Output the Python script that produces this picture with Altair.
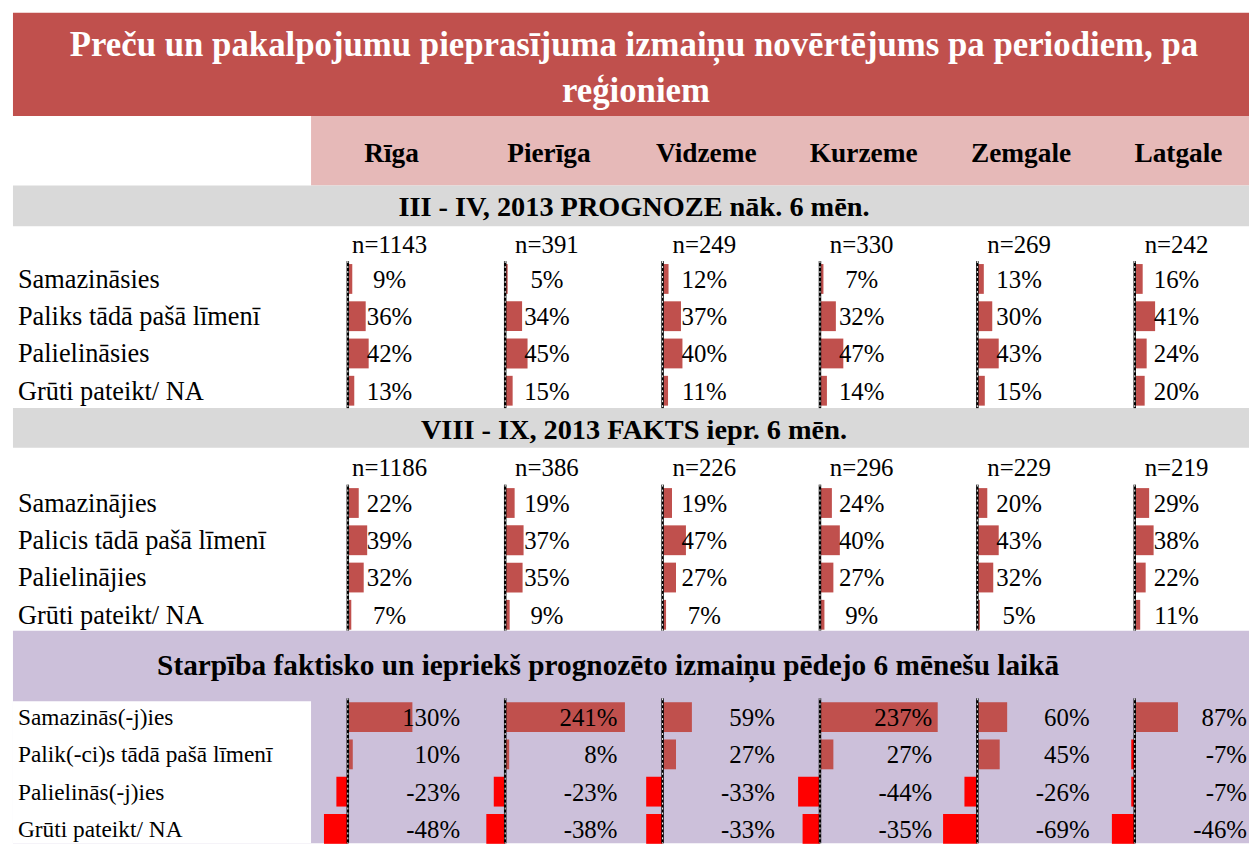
import altair as alt
import pandas as pd

# ---------------- data ----------------
title_lines = ["Preču un pakalpojumu pieprasījuma izmaiņu novērtējums pa periodiem, pa", "reģioniem"]
regions = ["Rīga", "Pierīga", "Vidzeme", "Kurzeme", "Zemgale", "Latgale"]

sec1_title = "III - IV, 2013 PROGNOZE nāk. 6 mēn."
sec1_n = [1143, 391, 249, 330, 269, 242]
sec1_cats = ["Samazināsies", "Paliks tādā pašā līmenī", "Palielināsies", "Grūti pateikt/ NA"]
sec1_riga = [9, 36, 42, 13]
sec1_pieriga = [5, 34, 45, 15]
sec1_vidzeme = [12, 37, 40, 11]
sec1_kurzeme = [7, 32, 47, 14]
sec1_zemgale = [13, 30, 43, 15]
sec1_latgale = [16, 41, 24, 20]

sec2_title = "VIII - IX, 2013 FAKTS iepr. 6 mēn."
sec2_n = [1186, 386, 226, 296, 229, 219]
sec2_cats = ["Samazinājies", "Palicis tādā pašā līmenī", "Palielinājies", "Grūti pateikt/ NA"]
sec2_riga = [22, 39, 32, 7]
sec2_pieriga = [19, 37, 35, 9]
sec2_vidzeme = [19, 47, 27, 7]
sec2_kurzeme = [24, 40, 27, 9]
sec2_zemgale = [20, 43, 32, 5]
sec2_latgale = [29, 38, 22, 11]

sec3_title = "Starpība faktisko un iepriekš prognozēto izmaiņu pēdejo 6 mēnešu laikā"
sec3_cats = ["Samazinās(-j)ies", "Palik(-ci)s tādā pašā līmenī", "Palielinās(-j)ies", "Grūti pateikt/ NA"]
sec3_riga = [130, 10, -23, -48]
sec3_pieriga = [241, 8, -23, -38]
sec3_vidzeme = [59, 27, -33, -33]
sec3_kurzeme = [237, 27, -44, -35]
sec3_zemgale = [60, 45, -26, -69]
sec3_latgale = [87, -7, -7, -46]

# ---------------- layout (pixel positions on the page) ----------------
FONT = "Liberation Serif"
RED = "#C0504D"
PINK = "#E6B9B8"
GRAY = "#D9D9D9"
LAV = "#CCC0DA"
NEG = "#FF0000"
PX_PER_PCT = 0.5
AXIS0, AXIS_STEP = 350.0, 158.4
ROW_STEP, BAR_H = 37.5, 30
LEFT, RIGHT = 13, 1257

XS = alt.Scale(domain=[8, 1257], nice=False, zero=False)
YS = alt.Scale(domain=[8, 846], reverse=True, nice=False, zero=False)


def X(f):
    return alt.X(f, type="quantitative", scale=XS, axis=None)


def Y(f):
    return alt.Y(f, type="quantitative", scale=YS, axis=None)


sections = [
    dict(cats=sec1_cats, vals=[sec1_riga, sec1_pieriga, sec1_vidzeme, sec1_kurzeme, sec1_zemgale, sec1_latgale],
         n=sec1_n, row0=278, ny=244, ax=(260, 408), lab=26.5, kind="share"),
    dict(cats=sec2_cats, vals=[sec2_riga, sec2_pieriga, sec2_vidzeme, sec2_kurzeme, sec2_zemgale, sec2_latgale],
         n=sec2_n, row0=503.5, ny=468, ax=(485, 632), lab=26.5, kind="share"),
    dict(cats=sec3_cats, vals=[sec3_riga, sec3_pieriga, sec3_vidzeme, sec3_kurzeme, sec3_zemgale, sec3_latgale],
         n=None, row0=719, ny=None, ax=(700, 846), lab=23.5, kind="diff"),
]

# backgrounds
bg = pd.DataFrame([
    dict(x=LEFT, x2=RIGHT, y=10, y2=114, c=RED),
    dict(x=313, x2=RIGHT, y=114, y2=184, c=PINK),
    dict(x=LEFT, x2=RIGHT, y=184, y2=225, c=GRAY),
    dict(x=LEFT, x2=RIGHT, y=408, y2=448, c=GRAY),
    dict(x=LEFT, x2=RIGHT, y=632, y2=846, c=LAV),
    dict(x=LEFT, x2=313, y=703, y2=846, c="#FFFFFF"),
])
bg_layer = alt.Chart(bg).mark_rect().encode(
    x=X("x"), x2="x2", y=Y("y"), y2="y2", color=alt.Color("c:N", scale=None))

# titles
tit = pd.DataFrame([
    dict(t=title_lines[0], x=638, y=43, s=35, c="white"),
    dict(t=title_lines[1], x=640, y=89, s=35, c="white"),
    dict(t=sec1_title, x=638, y=206, s=28.5, c="black"),
    dict(t=sec2_title, x=638, y=430, s=28.5, c="black"),
    dict(t=sec3_title, x=612, y=668, s=29.5, c="black"),
])
tit_layer = alt.Chart(tit).mark_text(font=FONT, fontWeight="bold", baseline="middle", align="center").encode(
    x=X("x"), y=Y("y"), text="t:N", size=alt.Size("s:Q", scale=None), color=alt.Color("c:N", scale=None))

# region headers
hdr = pd.DataFrame(dict(t=regions, x=[AXIS0 + i * AXIS_STEP + 44 for i in range(6)], y=[152] * 6))
hdr_layer = alt.Chart(hdr).mark_text(font=FONT, fontWeight="bold", fontSize=27.5, baseline="middle").encode(
    x=X("x"), y=Y("y"), text="t:N")

bars, labels, nums, ns, axes = [], [], [], [], []
for s in sections:
    for j, c in enumerate(s["cats"]):
        labels.append(dict(t=c, x=18, y=s["row0"] + j * ROW_STEP + 1, s=s["lab"]))
    for i, reg in enumerate(regions):
        ax = AXIS0 + i * AXIS_STEP
        axes.append(dict(x=ax, y=s["ax"][0], y2=s["ax"][1]))
        if s["n"] is not None:
            ns.append(dict(t=f"n={s['n'][i]}", x=ax + 42, y=s["ny"]))
        for j, v in enumerate(s["vals"][i]):
            yc = s["row0"] + j * ROW_STEP
            bars.append(dict(region=reg, cat=s["cats"][j], value=v, x=ax, x2=ax + v * PX_PER_PCT,
                             y=yc - BAR_H / 2, y2=yc + BAR_H / 2, c=RED if v >= 0 else NEG))
            if s["kind"] == "share":
                nums.append(dict(t=f"{v}%", x=ax + 42, y=yc + 1, a="center"))
            else:
                nums.append(dict(t=f"{v}%", x=ax + 113, y=yc + 1, a="right"))

bars = pd.DataFrame(bars)
bar_layer = alt.Chart(bars).mark_rect().encode(
    x=X("x"), x2="x2", y=Y("y"), y2="y2", color=alt.Color("c:N", scale=None),
    tooltip=["region:N", "cat:N", "value:Q"])

axdf = pd.DataFrame(axes)
ax_black = alt.Chart(axdf).mark_rule(color="black", strokeWidth=2.5).encode(x=X("x"), y=Y("y"), y2="y2")
ax_white = alt.Chart(axdf).mark_rule(color="white", strokeWidth=1, strokeDash=[2, 3]).encode(
    x=X("x"), y=Y("y"), y2="y2")

lab_layer = alt.Chart(pd.DataFrame(labels)).mark_text(font=FONT, align="left", baseline="middle").encode(
    x=X("x"), y=Y("y"), text="t:N", size=alt.Size("s:Q", scale=None))

numdf = pd.DataFrame(nums)
num_c = alt.Chart(numdf[numdf.a == "center"]).mark_text(font=FONT, fontSize=25, align="center", baseline="middle").encode(
    x=X("x"), y=Y("y"), text="t:N")
num_r = alt.Chart(numdf[numdf.a == "right"]).mark_text(font=FONT, fontSize=25, align="right", baseline="middle").encode(
    x=X("x"), y=Y("y"), text="t:N")
n_layer = alt.Chart(pd.DataFrame(ns)).mark_text(font=FONT, fontSize=25, align="center", baseline="middle").encode(
    x=X("x"), y=Y("y"), text="t:N")

chart = alt.layer(
    bg_layer, tit_layer, hdr_layer, bar_layer, ax_black, ax_white, lab_layer, num_c, num_r, n_layer
).properties(
    width=1249, height=838, padding=0, autosize=alt.AutoSizeParams(type="none")
).configure_view(stroke=None)

chart.save("out.html", embed_options={"renderer": "svg", "actions": False})
